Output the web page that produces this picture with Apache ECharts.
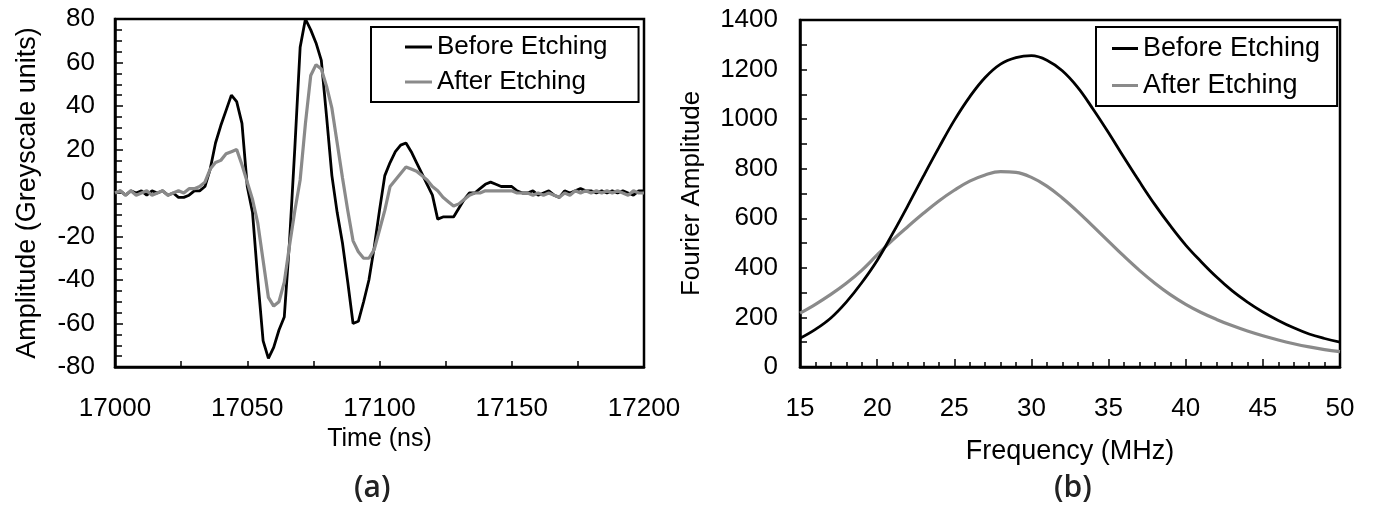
<!DOCTYPE html>
<html><head><meta charset="utf-8">
<script src="https://cdn.jsdelivr.net/npm/echarts@6/dist/echarts.min.js"></script>
<style>html,body{margin:0;padding:0;background:#fff}#c{width:1374px;height:508px}</style>
</head><body><div id="c"></div>
<script>
// Panel (a): time-domain waveform
const timeNs = [17000,17002,17004,17006,17008,17010,17012,17014,17016,17018,17020,17022,17024,17026,17028,17030,17032,17034,17036,17038,17040,17042,17044,17046,17048,17050,17052,17054,17056,17058,17060,17062,17064,17066,17068,17070,17072,17074,17076,17078,17080,17082,17084,17086,17088,17090,17092,17094,17096,17098,17100,17102,17104,17106,17108,17110,17112,17114,17116,17118,17120,17122,17124,17126,17128,17130,17132,17134,17136,17138,17140,17142,17144,17146,17148,17150,17152,17154,17156,17158,17160,17162,17164,17166,17168,17170,17172,17174,17176,17178,17180,17182,17184,17186,17188,17190,17192,17194,17196,17198,17200];
const beforeWave = [0,1,-1,1,0,1,-1,1,0,1,-1,0,-2,-2,-1,1,1,3,11,23,31,38,45,42,32,3,-9,-40,-68,-76,-71,-63,-57,-22,21,67,80,75,69,61,35,8,-9,-23,-41,-60,-59,-50,-40,-25,-8,8,14,19,22,23,19,14,9,4,-1,-12,-11,-11,-11,-7,-3,0,0,2,4,5,4,3,3,3,1,0,0,1,-1,0,1,-1,-2,1,0,1,2,1,1,0,1,0,1,0,1,0,-1,1,1];
const afterWave = [0,1,-1,1,-1,0,1,-1,0,1,-1,0,1,0,2,2,3,5,11,14,15,18,19,20,13,5,-3,-14,-31,-48,-52,-50,-41,-24,-8,6,32,54,59,57,49,39,23,7,-8,-22,-27,-30,-30,-26,-17,-8,3,6,9,12,11,10,8,6,3,1,-2,-4,-6,-5,-3,-1,0,0,1,1,1,1,1,1,0,0,0,-1,0,-1,0,-1,-2,0,-1,1,0,1,0,1,0,1,0,1,0,-1,1,0,0];
// Panel (b): Fourier spectrum
const freqMHz = [15,16,17,18,19,20,21,22,23,24,25,26,27,28,29,30,31,32,33,34,35,36,37,38,39,40,41,42,43,44,45,46,47,48,49,50];
const beforeFourier = [116,152,198,262,340,430,538,652,770,885,995,1090,1168,1222,1248,1256,1238,1195,1128,1040,945,845,748,655,570,492,425,363,308,262,222,188,158,133,115,100];
const afterFourier = [217,253,293,338,390,452,512,567,620,670,713,750,775,788,785,765,730,682,627,567,507,447,390,338,292,253,220,192,167,145,126,109,94,81,70,62];
const seriesNames = ['Before Etching', 'After Etching'];
const panelLabels = ['(a)', '(b)'];
const axisTitles = {aX: 'Time (ns)', aY: 'Amplitude (Greyscale units)', bX: 'Frequency (MHz)', bY: 'Fourier Amplitude'};

const FONT = '"Liberation Sans", Arial, sans-serif';
const BLACK = '#000000';
const GRAY = '#8a8a8a';

function pairs(xs, ys) { return xs.map((x, i) => [x, ys[i]]); }
const plain = v => String(v);

function axisCommon(extra) {
  return Object.assign({
    type: 'value',
    axisLine: {show: true, onZero: false, lineStyle: {color: BLACK, width: 2.5}},
    splitLine: {show: false},
    minorSplitLine: {show: false},
    nameLocation: 'middle'
  }, extra);
}
function ticks(len) { return {show: true, inside: true, length: len, lineStyle: {color: BLACK, width: 1.5}}; }
function minor(n, len) { return {show: true, splitNumber: n, length: len, lineStyle: {color: BLACK, width: 1.5}}; }
function label(margin) { return {color: BLACK, fontFamily: FONT, fontSize: 26, margin: margin, formatter: plain}; }
function title(size) { return {color: BLACK, fontFamily: FONT, fontSize: size}; }

const chart = echarts.init(document.getElementById('c'), null, {renderer: 'canvas'});
const option = {
  backgroundColor: '#ffffff',
  animation: false,
  grid: [
    {left: 115, top: 19, width: 529, height: 348, show: true, borderColor: BLACK, borderWidth: 2.5},
    {left: 800, top: 20, width: 540, height: 347, show: true, borderColor: BLACK, borderWidth: 2.5}
  ],
  xAxis: [
    axisCommon({gridIndex: 0, min: 17000, max: 17200, interval: 50,
      axisTick: ticks(6), minorTick: minor(2, 6), axisLabel: label(29),
      name: axisTitles.aX, nameGap: 49, nameTextStyle: title(25)}),
    axisCommon({gridIndex: 1, min: 15, max: 50, interval: 5,
      axisTick: ticks(8), minorTick: minor(5, 5), axisLabel: label(29),
      name: axisTitles.bX, nameGap: 71, nameTextStyle: title(27)})
  ],
  yAxis: [
    axisCommon({gridIndex: 0, min: -80, max: 80, interval: 20,
      axisTick: ticks(8), minorTick: minor(4, 7), axisLabel: label(20),
      name: axisTitles.aY, nameGap: 74, nameTextStyle: title(27)}),
    axisCommon({gridIndex: 1, min: 0, max: 1400, interval: 200,
      axisTick: ticks(7), minorTick: minor(2, 7), axisLabel: label(22),
      name: axisTitles.bY, nameGap: 95, nameTextStyle: title(26)})
  ],
  legend: [
    {left: 371, top: 27, orient: 'vertical', data: seriesNames, icon: 'rect', itemWidth: 27, itemHeight: 3, itemGap: 7,
      padding: [6, 31, 6, 34], borderColor: BLACK, borderWidth: 2, backgroundColor: '#fff',
      textStyle: {color: BLACK, fontFamily: FONT, fontSize: 26, lineHeight: 28}},
    {left: 1096, top: 27, orient: 'vertical', data: seriesNames, icon: 'rect', itemWidth: 26, itemHeight: 3, itemGap: 8,
      padding: [7, 17, 6, 16], borderColor: BLACK, borderWidth: 2, backgroundColor: '#fff',
      textStyle: {color: BLACK, fontFamily: FONT, fontSize: 27, lineHeight: 29}}
  ],
  series: [
    {name: seriesNames[0], type: 'line', xAxisIndex: 0, yAxisIndex: 0, data: pairs(timeNs, beforeWave),
      symbol: 'none', lineStyle: {color: BLACK, width: 2.8}, itemStyle: {color: BLACK}, z: 2},
    {name: seriesNames[1], type: 'line', xAxisIndex: 0, yAxisIndex: 0, data: pairs(timeNs, afterWave),
      symbol: 'none', lineStyle: {color: GRAY, width: 3.2}, itemStyle: {color: GRAY}, z: 3},
    {name: seriesNames[0], type: 'line', xAxisIndex: 1, yAxisIndex: 1, data: pairs(freqMHz, beforeFourier),
      symbol: 'none', smooth: 0.4, lineStyle: {color: BLACK, width: 2.8}, itemStyle: {color: BLACK}, z: 3},
    {name: seriesNames[1], type: 'line', xAxisIndex: 1, yAxisIndex: 1, data: pairs(freqMHz, afterFourier),
      symbol: 'none', smooth: 0.4, lineStyle: {color: GRAY, width: 3.2}, itemStyle: {color: GRAY}, z: 2}
  ],
  graphic: [
    {type: 'text', left: 372 - 18, top: 473, style: {text: panelLabels[0], font: '600 30px "Open Sans"', fill: '#222'}},
    {type: 'text', left: 1072 - 18, top: 473, style: {text: panelLabels[1], font: '600 30px "Open Sans"', fill: '#222'}}
  ]
};
chart.setOption(option);
</script>
</body></html>
